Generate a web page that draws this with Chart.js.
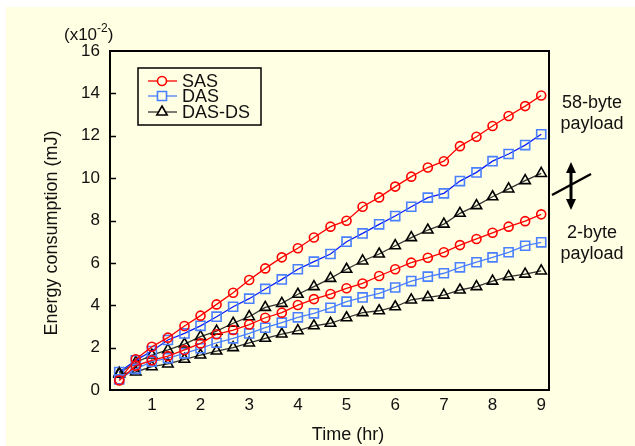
<!DOCTYPE html>
<html>
<head>
<meta charset="utf-8">
<script src="https://cdn.jsdelivr.net/npm/chart.js@4.4.0/dist/chart.umd.min.js"></script>
<style>
  html, body { margin: 0; padding: 0; background: #fff; }
  #wrap { width: 635px; height: 446px; }
</style>
</head>
<body>
<div id="wrap"><canvas id="energyChart" width="635" height="446"></canvas></div>
<script>
// time axis (hr) and tick labels
const timeHr = [0.33, 0.67, 1, 1.33, 1.67, 2, 2.33, 2.67, 3, 3.33, 3.67, 4, 4.33, 4.67, 5,
                5.33, 5.67, 6, 6.33, 6.67, 7, 7.33, 7.67, 8, 8.33, 8.67, 9];
const timeTicks = [1, 2, 3, 4, 5, 6, 7, 8, 9];

// energy consumption (x10^-2 mJ), 58-byte payload
const sas58   = [0.5, 1.45, 2.04, 2.47, 3.02, 3.51, 4.04, 4.59, 5.19, 5.74, 6.26, 6.69, 7.2, 7.71,
                 7.99, 8.65, 9.09, 9.6, 10.07, 10.5, 10.8, 11.51, 11.95, 12.46, 12.93, 13.4, 13.9];
const das58   = [0.85, 1.4, 1.84, 2.36, 2.67, 3.03, 3.46, 3.93, 4.31, 4.77, 5.22, 5.7, 6.06, 6.42,
                 7.0, 7.39, 7.82, 8.21, 8.65, 9.08, 9.28, 9.86, 10.27, 10.8, 11.14, 11.56, 12.07];
const dasDs58 = [0.8, 1.3, 1.65, 1.89, 2.17, 2.52, 2.78, 3.15, 3.46, 3.9, 4.09, 4.52, 4.88, 5.27,
                 5.7, 6.09, 6.42, 6.81, 7.19, 7.55, 7.83, 8.34, 8.7, 9.12, 9.49, 9.88, 10.22];

// 2-byte payload
const sas2    = [0.45, 1.15, 1.4, 1.6, 1.89, 2.2, 2.63, 2.83, 3.09, 3.41, 3.65, 4.01, 4.29, 4.53,
                 4.8, 5.03, 5.38, 5.7, 6.01, 6.24, 6.5, 6.84, 7.13, 7.42, 7.71, 7.97, 8.29];
const das2    = [0.5, 1.0, 1.34, 1.5, 1.73, 1.97, 2.23, 2.44, 2.67, 2.94, 3.18, 3.43, 3.62, 3.88,
                 4.17, 4.37, 4.56, 4.84, 5.14, 5.35, 5.51, 5.79, 6.03, 6.26, 6.5, 6.81, 6.97];
const dasDs2  = [0.75, 0.85, 1.1, 1.23, 1.45, 1.65, 1.84, 2.0, 2.22, 2.44, 2.64, 2.8, 3.03, 3.15,
                 3.41, 3.65, 3.74, 3.93, 4.25, 4.37, 4.48, 4.72, 4.88, 5.14, 5.35, 5.47, 5.62];

const legendNames = ['SAS', 'DAS', 'DAS-DS'];

const FONT = '"Liberation Sans", Arial, sans-serif';
const BG = '#FFFFE3';

function pts(vals) {
  return vals.map((v, i) => ({ x: timeHr[i], y: v }));
}

function series(label, vals, line, mark, style, r) {
  return {
    label: label,
    data: pts(vals),
    borderColor: line,
    borderWidth: 1.3,
    pointStyle: style,
    pointRadius: r,
    pointBorderColor: mark,
    pointBorderWidth: 1.6,
    pointBackgroundColor: 'rgba(0,0,0,0)',
    fill: false,
    tension: 0
  };
}

// legend, frame, titles and the payload notes
const decor = {
  id: 'decor',
  beforeDraw(chart) {
    const ctx = chart.ctx;
    ctx.save();
    ctx.fillStyle = '#fff';
    ctx.fillRect(0, 0, chart.width, chart.height);
    ctx.fillStyle = BG;
    ctx.fillRect(6, 7, chart.width - 6, chart.height - 7);
    ctx.restore();
  },
  afterDatasetsDraw(chart) {
    const ctx = chart.ctx;
    const a = chart.chartArea;
    const y = chart.scales.y;
    ctx.save();
    ctx.strokeStyle = '#000';
    ctx.lineWidth = 2;
    ctx.strokeRect(a.left, a.top, a.right - a.left, a.bottom - a.top);
    ctx.lineWidth = 1.5;
    for (let v = 2; v < 16; v += 2) {
      const py = Math.round(y.getPixelForValue(v)) + 0.5;
      ctx.beginPath();
      ctx.moveTo(a.left, py);
      ctx.lineTo(a.left + 6, py);
      ctx.stroke();
    }

    // legend box
    ctx.fillStyle = BG;
    ctx.fillRect(138, 68, 123, 57);
    ctx.lineWidth = 1.5;
    ctx.strokeStyle = '#000';
    ctx.strokeRect(138, 68, 123, 57);
    const rows = [81, 96, 112];
    const sets = [chart.data.datasets[3], chart.data.datasets[4], chart.data.datasets[5]];
    ctx.font = '18px ' + FONT;
    ctx.textBaseline = 'middle';
    sets.forEach((ds, i) => {
      ctx.strokeStyle = i === 1 ? '#4A7FFF' : ds.borderColor;
      ctx.lineWidth = 1.3;
      ctx.beginPath();
      ctx.moveTo(148, rows[i]);
      ctx.lineTo(177, rows[i]);
      ctx.stroke();
      ctx.fillStyle = BG;
      ctx.strokeStyle = ds.pointBorderColor;
      ctx.lineWidth = 1.6;
      Chart.helpers.drawPoint(ctx, {
        pointStyle: ds.pointStyle, radius: ds.pointRadius, borderWidth: 1.6, rotation: 0
      }, 162, rows[i]);
      ctx.fillStyle = '#111';
      ctx.fillText(legendNames[i], 182, rows[i] + 1);
    });
    ctx.restore();
  },
  afterDraw(chart) {
    const ctx = chart.ctx;
    ctx.save();
    ctx.fillStyle = '#111';
    ctx.font = '18px ' + FONT;
    ctx.textAlign = 'center';
    ctx.textBaseline = 'middle';
    ctx.fillText('Time (hr)', 348, 435);
    ctx.fillText('58-byte', 592, 103);
    ctx.fillText('payload', 592, 124);
    ctx.fillText('2-byte', 592, 233);
    ctx.fillText('payload', 592, 254);

    ctx.save();
    ctx.translate(52, 233);
    ctx.rotate(-Math.PI / 2);
    ctx.fillText('Energy consumption (mJ)', 0, 0);
    ctx.restore();

    // (x10^-2)
    ctx.textAlign = 'left';
    ctx.textBaseline = 'alphabetic';
    let x = 64;
    ctx.font = '17px ' + FONT;
    ctx.fillText('(x10', x, 40);
    x += ctx.measureText('(x10').width;
    ctx.font = '12px ' + FONT;
    ctx.fillText('-2', x, 32);
    x += ctx.measureText('-2').width;
    ctx.font = '17px ' + FONT;
    ctx.fillText(')', x, 40);

    // double arrow with break line
    ctx.strokeStyle = '#000';
    ctx.fillStyle = '#000';
    ctx.lineWidth = 3;
    ctx.beginPath();
    ctx.moveTo(571, 170);
    ctx.lineTo(571, 202);
    ctx.stroke();
    ctx.beginPath();
    ctx.moveTo(571, 162); ctx.lineTo(566, 173); ctx.lineTo(576, 173); ctx.closePath();
    ctx.fill();
    ctx.beginPath();
    ctx.moveTo(571, 210); ctx.lineTo(566, 199); ctx.lineTo(576, 199); ctx.closePath();
    ctx.fill();
    ctx.lineWidth = 2.5;
    ctx.beginPath();
    ctx.moveTo(552, 195);
    ctx.lineTo(591, 174);
    ctx.stroke();
    ctx.restore();
  }
};

const ctx = document.getElementById('energyChart').getContext('2d');
const chart = new Chart(ctx, {
  type: 'line',
  data: {
    datasets: [
      series('SAS 2-byte', sas2, '#FF0000', '#FF0000', 'circle', 4.5),
      series('DAS 2-byte', das2, '#4A80FF', '#4A7FFF', 'rect', 6.4),
      series('DAS-DS 2-byte', dasDs2, '#333333', '#000000', 'triangle', 6),
      series('SAS 58-byte', sas58, '#FF0000', '#FF0000', 'circle', 4.5),
      series('DAS 58-byte', das58, '#0A1EFF', '#4A7FFF', 'rect', 6.4),
      series('DAS-DS 58-byte', dasDs58, '#333333', '#000000', 'triangle', 6)
    ]
  },
  options: {
    responsive: false,
    animation: false,
    layout: { padding: { left: 0, top: 51, right: 86, bottom: 0 } },
    plugins: { legend: { display: false }, tooltip: { enabled: false } },
    scales: {
      x: {
        type: 'linear',
        min: 0.14,
        max: 9.16,
        grid: { display: false, drawTicks: false },
        border: { display: false },
        afterBuildTicks: (s) => { s.ticks = timeTicks.map(v => ({ value: v })); },
        afterFit: (s) => { s.height = 56; },
        ticks: { color: '#111', font: { family: FONT, size: 17 }, padding: 5, maxRotation: 0 }
      },
      y: {
        min: 0,
        max: 16,
        grid: { display: false, drawTicks: false },
        border: { display: false },
        afterFit: (s) => { s.width = 110; },
        ticks: { stepSize: 2, color: '#111', font: { family: FONT, size: 17 }, padding: 10 }
      }
    }
  },
  plugins: [decor]
});
</script>
</body>
</html>
